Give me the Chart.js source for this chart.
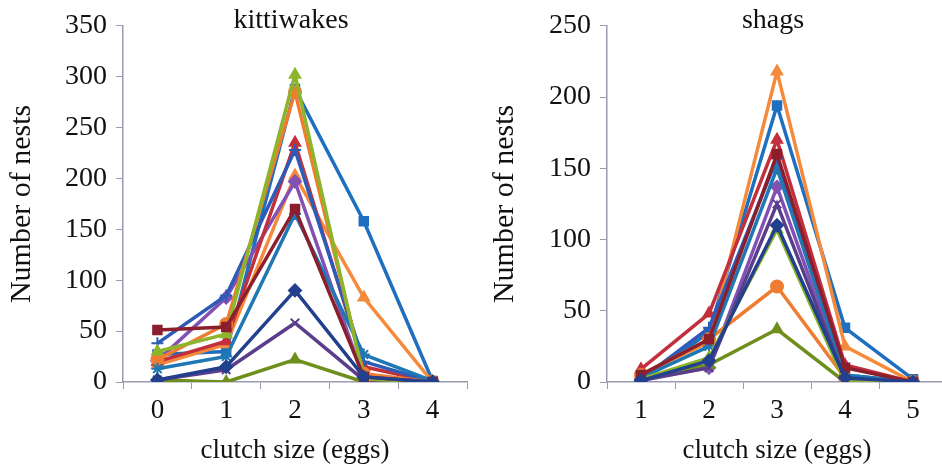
<!DOCTYPE html>
<html>
<head>
<meta charset="utf-8">
<script src="https://cdn.jsdelivr.net/npm/chart.js@4.4.1/dist/chart.umd.min.js"></script>
<style>
  html, body { margin: 0; padding: 0; background: #fff; overflow: hidden; }
  #wrap { position: relative; width: 942px; height: 471px; }
  #left { position: absolute; left: 0; top: 0; }
  #right { position: absolute; left: 475px; top: 0; }
</style>
</head>
<body>
<div id="wrap">
  <canvas id="left" width="475" height="471"></canvas>
  <canvas id="right" width="480" height="471"></canvas>
</div>
<script>
// clutch sizes
var kittiLabels = ['0', '1', '2', '3', '4'];
var shagLabels = ['1', '2', '3', '4', '5'];

// kittiwake nests per clutch size, one array per year
var kNavy   = [2, 15, 90, 5, 0];
var kMaroon = [51, 54, 170, 5, 0];
var kGreen  = [30, 47, 302, 3, 0];
var kPurpX  = [2, 12, 58, 2, 0];
var kTeal   = [13, 25, 165, 27, 1];
var kOrCirc = [22, 57, 285, 8, 0];
var kBlueP  = [38, 85, 228, 20, 0];
var kRed    = [20, 40, 235, 15, 0];
var kOlive  = [2, 0, 22, 0, 0];
var kPurp   = [21, 83, 197, 3, 0];
var kOrTri  = [17, 37, 203, 83, 0];
var kBlueSq = [27, 30, 288, 158, 1];

// shag nests per clutch size
var sNavy   = [1, 15, 110, 3, 0];
var sMaroon = [5, 30, 160, 10, 0];
var sGreen  = [2, 17, 107, 0, 0];
var sPurpX  = [1, 10, 125, 2, 0];
var sTeal   = [3, 25, 150, 5, 0];
var sOrCirc = [5, 30, 67, 3, 0];
var sBlueP  = [2, 38, 157, 5, 0];
var sRed    = [9, 48, 170, 12, 0];
var sOlive  = [3, 12, 37, 0, 0];
var sPurp   = [2, 10, 137, 3, 0];
var sOrTri  = [5, 28, 218, 25, 0];
var sBlueSq = [0, 35, 194, 38, 2];

var styles = [
  ['#22408e', 'rectRot'],
  ['#8c1f2e', 'rect'],
  ['#8db52b', 'triangle'],
  ['#5a3e8c', 'crossRot'],
  ['#1f78b4', 'star'],
  ['#ee7d32', 'circle'],
  ['#2d5cb8', 'cross'],
  ['#c1303c', 'triangle'],
  ['#6f8f1c', 'triangle'],
  ['#8152b3', 'rectRot'],
  ['#f58a3c', 'triangle'],
  ['#1f6fc0', 'rect']
];

var axisColor = '#9a9ab2';
var font = 'Liberation Serif';

function makeSets(list) {
  return list.map(function (d, i) {
    return {
      data: d,
      borderColor: styles[i][0],
      backgroundColor: styles[i][0],
      pointStyle: styles[i][1],
      pointRadius: 6,
      pointBorderWidth: 2,
      borderWidth: 3.5,
      tension: 0
    };
  });
}

function titlePlugin(text) {
  return {
    id: 'paneltitle',
    afterDraw: function (chart) {
      var c = chart.ctx, a = chart.chartArea;
      c.save();
      c.font = '28px "' + font + '"';
      c.fillStyle = '#111';
      c.textAlign = 'center';
      c.textBaseline = 'middle';
      c.fillText(text, (a.left + a.right) / 2 - 4, 21);
      c.restore();
    }
  };
}

function makeChart(id, labels, sets, max, title, yWidth, padLeft, padRight) {
  return new Chart(document.getElementById(id), {
    type: 'line',
    data: { labels: labels, datasets: makeSets(sets) },
    plugins: [titlePlugin(title)],
    options: {
      responsive: false,
      animation: false,
      layout: { padding: { top: 20, right: padRight, left: padLeft, bottom: 0 } },
      plugins: { legend: { display: false }, tooltip: { enabled: false } },
      scales: {
        x: {
          type: 'category',
          offset: true,
          grid: { offset: true, drawOnChartArea: false, color: axisColor, tickLength: 7, lineWidth: 1 },
          border: { color: axisColor, width: 1.5 },
          ticks: { color: '#111', font: { family: font, size: 27 }, padding: 6 },
          title: { display: true, text: 'clutch size (eggs)', color: '#111', font: { family: font, size: 27 } },
          afterFit: function (s) { s.height = 89; }
        },
        y: {
          min: 0, max: max,
          ticks: { stepSize: 50, color: '#111', font: { family: font, size: 28 }, padding: 9 },
          grid: { drawOnChartArea: false, color: axisColor, tickLength: 7 },
          border: { color: axisColor, width: 1.5 },
          title: { display: true, text: 'Number of nests', color: '#111', font: { family: font, size: 30 } },
          afterFit: function (s) { s.width = yWidth; }
        }
      }
    }
  });
}

makeChart('left', kittiLabels,
  [kNavy, kMaroon, kGreen, kPurpX, kTeal, kOrCirc, kBlueP, kRed, kOlive, kPurp, kOrTri, kBlueSq],
  350, 'kittiwakes', 123, 0, 7);

makeChart('right', shagLabels,
  [sNavy, sMaroon, sGreen, sPurpX, sTeal, sOrCirc, sBlueP, sRed, sOlive, sPurp, sOrTri, sBlueSq],
  250, 'shags', 124, 8, 5);
</script>
</body>
</html>
